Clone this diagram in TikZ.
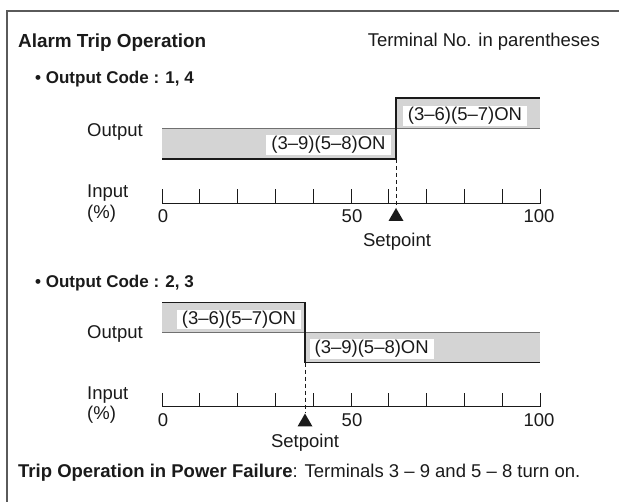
\documentclass[tikz,border=0pt]{standalone}
\usepackage{fontspec}
\setmainfont{Liberation Sans}
\definecolor{txt}{HTML}{1A1A1A}
\definecolor{boxfill}{HTML}{D4D4D4}
\definecolor{framec}{HTML}{5A5A5A}
\definecolor{midc}{HTML}{707070}
\begin{document}
\begin{tikzpicture}[x=1pt,y=-1pt,
  every node/.style={inner sep=0pt, text=txt},
  reg/.style={font=\fontsize{18.5}{20}\selectfont},
  ttl/.style={font=\fontsize{18.9}{20}\selectfont\bfseries},
  code/.style={font=\fontsize{17}{18}\selectfont\bfseries},
  lab/.style={reg, fill=white, inner xsep=5pt, inner ysep=1pt, text height=13.5pt, text depth=4pt},
  framel/.style={draw=framec, line width=1.6pt},
  edge/.style={draw=txt, line width=1.3pt},
  midline/.style={draw=midc, line width=1.3pt},
  axisl/.style={draw=txt, line width=0.9pt},
  dashln/.style={draw=txt, line width=0.9pt, dash pattern=on 4pt off 3pt},
  tri/.style={fill=txt}
]
\useasboundingbox (0,0) rectangle (619,502);
\draw[framel] (7,502) -- (7,11) -- (619,11);

% header
\node[ttl, anchor=base west] (title) at (18,48) {Alarm Trip Operation};
\node[reg, anchor=base east] (note) at (600,47) {Terminal No. in parentheses};

% ===== chart 1 =====
\node[code, anchor=base west] (code1) at (35,84) {\textbullet\ Output Code : 1, 4};
\fill[boxfill] (162,128.5) rectangle (396,159);
\fill[boxfill] (396,98) rectangle (540,128.5);
\draw[midline] (162,128.5) -- (540,128.5);
\draw[edge] (162,159) -- (396,159) -- (396,98) -- (540,98);
\node[lab] (on1a) at (328.5,145) {(3--9)(5--8)ON};
\node[lab] (on1b) at (465,116) {(3--6)(5--7)ON};
\node[reg, anchor=base west] (out1) at (87,137) {Output};
\node[reg, anchor=base west] (in1) at (87,198) {Input};
\node[reg, anchor=base west] (pct1) at (87,219) {(\%)};
\draw[axisl] (162,189.5) -- (162,203) -- (540,203) -- (540,189.5);
\foreach \i in {1,...,9} \draw[axisl] ({162+37.8*\i},203) -- ++(0,-13.5);
\node[reg, anchor=base] (t1a) at (163,223) {0};
\node[reg, anchor=base] (t1b) at (352,223) {50};
\node[reg, anchor=base] (t1c) at (539,223) {100};
\coordinate (sp1top) at (396,208);
\draw[dashln] (396,159) -- (sp1top);
\fill[tri] (sp1top) -- (388.5,221) -- (403.5,221) -- cycle;
\node[reg, anchor=base] (sp1) at (397,247) {Setpoint};

% ===== chart 2 =====
\node[code, anchor=base west] (code2) at (35,288) {\textbullet\ Output Code : 2, 3};
\fill[boxfill] (162,302.7) rectangle (305,332.7);
\fill[boxfill] (305,332.7) rectangle (540,362.7);
\draw[midline] (162,332.7) -- (540,332.7);
\draw[edge] (162,302.7) -- (305,302.7) -- (305,362.7) -- (540,362.7);
\node[lab] (on2a) at (239,319.5) {(3--6)(5--7)ON};
\node[lab] (on2b) at (371.7,349) {(3--9)(5--8)ON};
\node[reg, anchor=base west] (out2) at (87,339) {Output};
\node[reg, anchor=base west] (in2) at (87,400) {Input};
\node[reg, anchor=base west] (pct2) at (87,420) {(\%)};
\draw[axisl] (162,393) -- (162,406.5) -- (540,406.5) -- (540,393);
\foreach \i in {1,...,9} \draw[axisl] ({162+37.8*\i},406.5) -- ++(0,-13.5);
\node[reg, anchor=base] (t2a) at (163,427) {0};
\node[reg, anchor=base] (t2b) at (352,427) {50};
\node[reg, anchor=base] (t2c) at (539,427) {100};
\coordinate (sp2top) at (305,413.5);
\draw[dashln] (305,362.7) -- (sp2top);
\fill[tri] (sp2top) -- (297.5,426.5) -- (312.5,426.5) -- cycle;
\node[reg, anchor=base] (sp2) at (305,448) {Setpoint};

% footer
\node[reg, anchor=base west] (foot) at (18,478) {\textbf{Trip Operation in Power Failure}: Terminals 3 -- 9 and 5 -- 8 turn on.};
\end{tikzpicture}
\end{document}
